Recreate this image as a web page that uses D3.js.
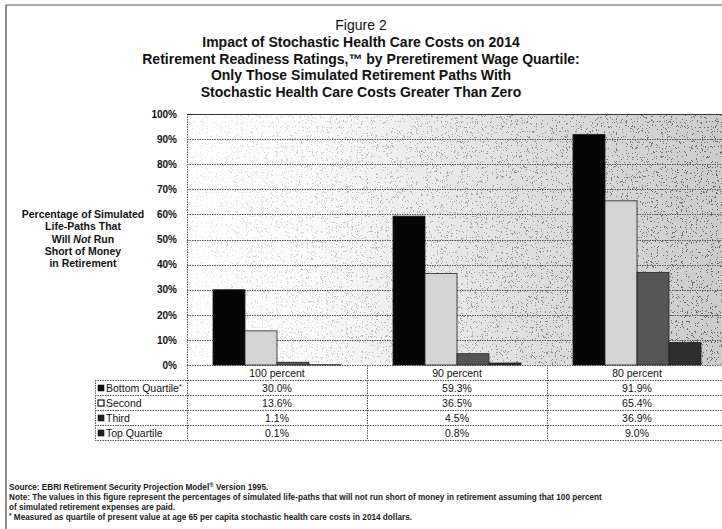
<!DOCTYPE html>
<html>
<head>
<meta charset="utf-8">
<script src="https://cdn.jsdelivr.net/npm/d3@7/dist/d3.min.js"></script>
<style>
  html, body { margin: 0; padding: 0; background: #fff; }
  svg { display: block; font-family: "Liberation Sans", Arial, sans-serif; }
</style>
</head>
<body>
<svg id="chart" width="722" height="529"></svg>
<script>
// Chart data
const categories = ["100 percent", "90 percent", "80 percent"];
const seriesNames = ["Bottom Quartile", "Second", "Third", "Top Quartile"];
const bottomQuartile = [30.0, 59.3, 91.9];
const secondQuartile = [13.6, 36.5, 65.4];
const thirdQuartile = [1.1, 4.5, 36.9];
const topQuartile = [0.1, 0.8, 9.0];
const yTicks = [0, 10, 20, 30, 40, 50, 60, 70, 80, 90, 100];

const seriesValues = [bottomQuartile, secondQuartile, thirdQuartile, topQuartile];
const seriesFill = ["#050505", "#d4d4d4", "#555555", "#2e2e2e"];
const legendFill = ["#111", "#fff", "#222", "#222"];

const titleLines = [
  "Impact of Stochastic Health Care Costs on 2014",
  "Retirement Readiness Ratings,™ by Preretirement Wage Quartile:",
  "Only Those Simulated Retirement Paths With",
  "Stochastic Health Care Costs Greater Than Zero"
];

const svg = d3.select("#chart");

// Layout
const plot = { left: 187, right: 727, top: 114, bottom: 365 };
const rowH = 15;
const tableLeft = 95;

const defs = svg.append("defs");
const grad = defs.append("linearGradient").attr("id", "bgGrad")
  .attr("x1", "0").attr("y1", "0").attr("x2", "1").attr("y2", "0");
grad.append("stop").attr("offset", "0").attr("stop-color", "#ffffff");
grad.append("stop").attr("offset", "0.25").attr("stop-color", "#f9f9f9");
grad.append("stop").attr("offset", "0.6").attr("stop-color", "#e0e0e0");
grad.append("stop").attr("offset", "1").attr("stop-color", "#cbcbcb");

// density of the stipple dots rises from left to right
const fadeGrad = defs.append("linearGradient").attr("id", "fadeGrad")
  .attr("x1", "0").attr("y1", "0").attr("x2", "1").attr("y2", "0");
fadeGrad.append("stop").attr("offset", "0").attr("stop-color", "#fff").attr("stop-opacity", 0.15);
fadeGrad.append("stop").attr("offset", "1").attr("stop-color", "#fff").attr("stop-opacity", 1);
defs.append("mask").attr("id", "fadeMask")
  .attr("maskContentUnits", "objectBoundingBox")
  .append("rect").attr("width", 1).attr("height", 1).attr("fill", "url(#fadeGrad)");

// sparse dark dots from thresholded noise
const dots = defs.append("filter").attr("id", "dots")
  .attr("x", 0).attr("y", 0).attr("width", 1).attr("height", 1)
  .attr("color-interpolation-filters", "sRGB");
dots.append("feTurbulence").attr("type", "fractalNoise").attr("baseFrequency", 1.8)
  .attr("numOctaves", 1).attr("seed", 3).attr("result", "n");
dots.append("feColorMatrix").attr("in", "n").attr("type", "matrix")
  .attr("values", "0 0 0 0 0  0 0 0 0 0  0 0 0 0 0  1 0 0 0 0").attr("result", "a");
const ct = dots.append("feComponentTransfer").attr("in", "a");
ct.append("feFuncA").attr("type", "discrete")
  .attr("tableValues", "0.5 0.5 0.5 0.5 0.5 0.5 0.5 0 0 0 0 0 0 0 0 0 0 0 0 0");

// Outer frame
svg.append("line").attr("x1", 6).attr("x2", 6).attr("y1", 5).attr("y2", 529)
  .attr("stroke", "#444").attr("stroke-width", 1.2);
svg.append("line").attr("x1", 6).attr("x2", 722).attr("y1", 5).attr("y2", 5)
  .attr("stroke", "#555").attr("stroke-width", 1.2);

// Titles
svg.append("text").attr("x", 361).attr("y", 30).attr("text-anchor", "middle")
  .attr("font-size", 14).attr("fill", "#111").text("Figure 2");
svg.selectAll("text.title").data(titleLines).join("text").attr("class", "title")
  .attr("x", 361).attr("y", (d, i) => 47 + i * 16.5).attr("text-anchor", "middle")
  .attr("font-size", 14).attr("font-weight", "bold").attr("fill", "#111")
  .text(d => d);

// Scales
const x0 = d3.scaleBand().domain(categories).range([plot.left, plot.right]);
const x1 = d3.scaleBand().domain(seriesNames).range([0, x0.bandwidth()]).paddingOuter(0.8125);
const y = d3.scaleLinear().domain([0, 100]).range([plot.bottom, plot.top]);

// Plot background: shaded gradient with stipple overlay
svg.append("rect").attr("x", plot.left).attr("y", plot.top)
  .attr("width", plot.right - plot.left).attr("height", plot.bottom - plot.top)
  .attr("fill", "url(#bgGrad)");
svg.append("g").attr("mask", "url(#fadeMask)")
  .append("rect").attr("x", plot.left).attr("y", plot.top)
  .attr("width", plot.right - plot.left).attr("height", plot.bottom - plot.top)
  .attr("fill", "#000").attr("filter", "url(#dots)");

// Gridlines
svg.append("g").selectAll("line").data(yTicks).join("line")
  .attr("x1", plot.left).attr("x2", plot.right)
  .attr("y1", d => Math.round(y(d)) + 0.5).attr("y2", d => Math.round(y(d)) + 0.5)
  .attr("stroke", d => d === 100 ? "#333" : "#555")
  .attr("stroke-width", d => d === 100 ? 1.2 : 1)
  .attr("stroke-dasharray", d => d === 100 ? null : "1.5,1");

// Y axis
const yAxis = d3.axisLeft(y).tickValues(yTicks).tickFormat(d => d + "%").tickSize(0).tickPadding(10);
const gy = svg.append("g").attr("transform", `translate(${plot.left},0)`).call(yAxis);
gy.select(".domain").attr("stroke", "#555").attr("stroke-dasharray", "1.5,1");
gy.selectAll("text").attr("font-size", 10).attr("font-weight", "bold").attr("fill", "#111")
  .attr("font-family", "Liberation Sans, Arial, sans-serif");

// Y axis title
const yTitleLines = [
  [["Percentage of Simulated", false]],
  [["Life-Paths That", false]],
  [["Will ", false], ["Not", true], [" Run", false]],
  [["Short of Money", false]],
  [["in Retirement", false]]
];
yTitleLines.forEach((parts, i) => {
  const t = svg.append("text").attr("x", 83).attr("y", 218 + i * 12.3)
    .attr("text-anchor", "middle").attr("font-size", 10.5).attr("font-weight", "bold").attr("fill", "#111");
  parts.forEach(([s, it]) => t.append("tspan").attr("font-style", it ? "italic" : "normal").text(s));
});

// Bars
const groups = svg.append("g").selectAll("g").data(categories).join("g")
  .attr("transform", d => `translate(${x0(d)},0)`);
groups.selectAll("rect").data((c, ci) => seriesNames.map((s, si) => ({ s, si, v: seriesValues[si][ci] })))
  .join("rect")
  .attr("x", d => x1(d.s)).attr("width", x1.bandwidth())
  .attr("y", d => y(d.v)).attr("height", d => y(0) - y(d.v))
  .attr("fill", d => seriesFill[d.si])
  .attr("stroke", "#222").attr("stroke-width", 0.8);

// Data table
const tbl = svg.append("g").attr("font-size", 10.5).attr("fill", "#111");
const dashed = "1.5,1";
// category header row
tbl.selectAll("text.cat").data(categories).join("text").attr("class", "cat")
  .attr("x", d => x0(d) + x0.bandwidth() / 2).attr("y", plot.bottom + 12)
  .attr("text-anchor", "middle").text(d => d);
// horizontal rules
const rowYs = [1, 2, 3, 4, 5].map(k => plot.bottom + k * rowH);
tbl.selectAll("line.h").data(rowYs).join("line").attr("class", "h")
  .attr("x1", tableLeft).attr("x2", plot.right)
  .attr("y1", d => d + 0.5).attr("y2", d => d + 0.5)
  .attr("stroke", "#555").attr("stroke-dasharray", dashed);
// vertical rules
const vXs = [tableLeft, plot.left, ...categories.slice(1).map(c => x0(c))];
tbl.selectAll("line.v").data(vXs).join("line").attr("class", "v")
  .attr("x1", d => d + 0.5).attr("x2", d => d + 0.5)
  .attr("y1", d => d === tableLeft ? plot.bottom + rowH : plot.bottom)
  .attr("y2", plot.bottom + 5 * rowH)
  .attr("stroke", "#555").attr("stroke-dasharray", dashed);

const fmt = d3.format(".1f");
seriesNames.forEach((name, si) => {
  const ry = plot.bottom + rowH * (si + 1);
  tbl.append("rect").attr("x", 98).attr("y", ry + 5).attr("width", 6).attr("height", 6)
    .attr("fill", legendFill[si]).attr("stroke", "#111").attr("stroke-width", si === 1 ? 1.2 : 0.6);
  const lt = tbl.append("text").attr("x", 106).attr("y", ry + 11.5).text(name);
  if (si === 0) lt.append("tspan").attr("dy", -3).attr("font-size", 7).text("*");
  tbl.selectAll(null).data(categories).join("text")
    .attr("x", c => x0(c) + x0.bandwidth() / 2).attr("y", ry + 11.5)
    .attr("text-anchor", "middle")
    .text((c, ci) => fmt(seriesValues[si][ci]) + "%");
});

// Footnotes
const notes = svg.append("g").attr("font-size", 8.2).attr("font-weight", "bold").attr("fill", "#1a1a1a");
const n1 = notes.append("text").attr("x", 9).attr("y", 490);
n1.append("tspan").text("Source: EBRI Retirement Security Projection Model");
n1.append("tspan").attr("dy", -3).attr("font-size", 6).text("®");
n1.append("tspan").attr("dy", 3).text(" Version 1995.");
notes.append("text").attr("x", 9).attr("y", 500)
  .text("Note: The values in this figure represent the percentages of simulated life-paths that will not run short of money in retirement assuming that 100 percent");
notes.append("text").attr("x", 9).attr("y", 509.5).text("of simulated retirement expenses are paid.");
const n4 = notes.append("text").attr("x", 9).attr("y", 520);
n4.append("tspan").attr("dy", -2).attr("font-size", 6.5).text("*");
n4.append("tspan").attr("dy", 2)
  .text(" Measured as quartile of present value at age 65 per capita stochastic health care costs in 2014 dollars.");
</script>
</body>
</html>
